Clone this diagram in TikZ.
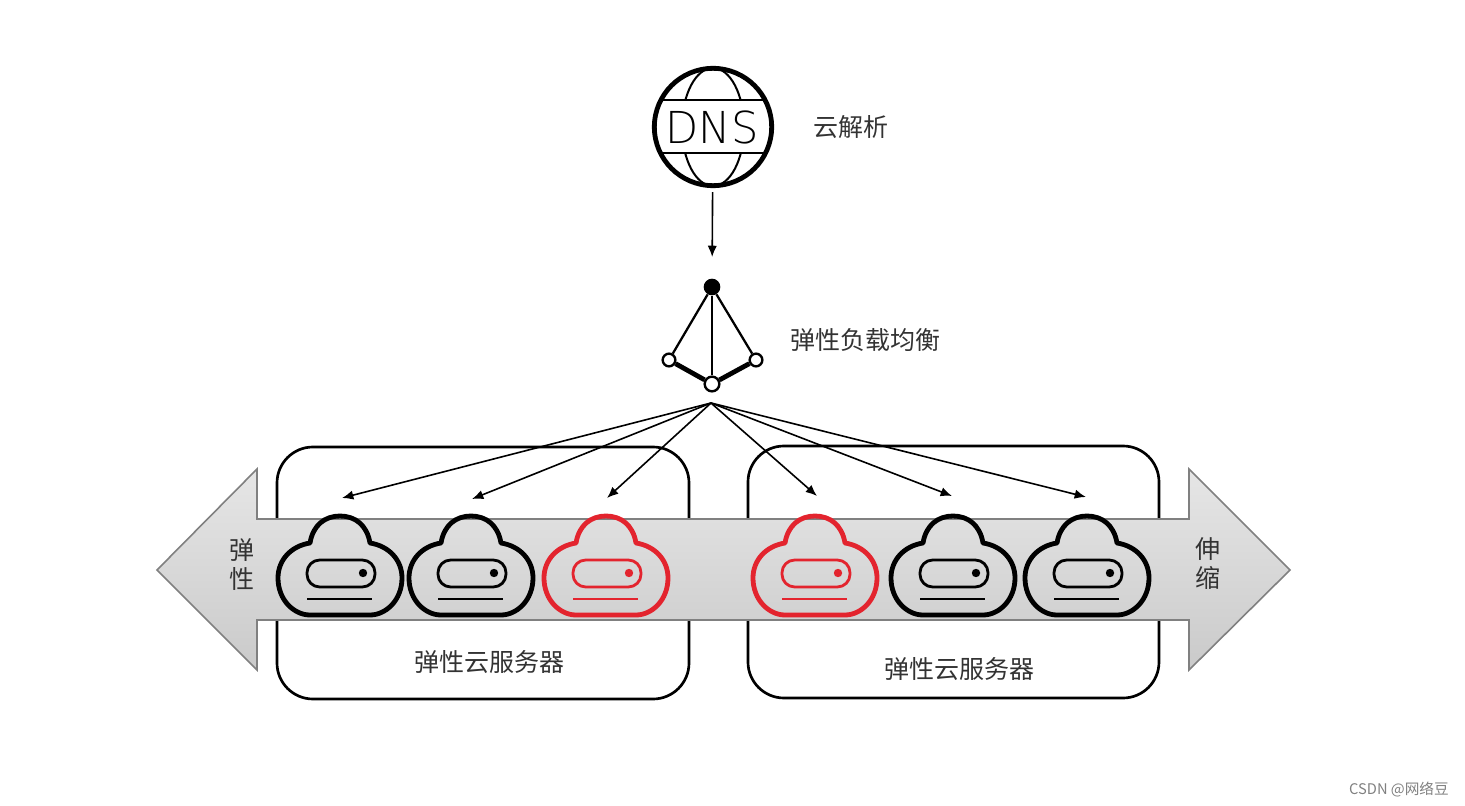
\documentclass[tikz,border=0pt]{standalone}
\usepackage{fontspec}
\usepackage{xcolor}
\usetikzlibrary{arrows.meta, positioning}
\newfontfamily\cjk{Noto Sans CJK SC}
\newfontfamily\dnsfont{DejaVu Sans ExtraLight}
\definecolor{srvred}{HTML}{E3242E}
\definecolor{labelgray}{HTML}{333333}
\definecolor{bandtop}{HTML}{E6E6E6}
\definecolor{bandbot}{HTML}{CACACA}
\tikzset{
  srv/.pic={
    \draw[line width=3.6pt, line join=round]
      (-30,27) .. controls (-27,9) and (-15,0) .. (0,0)
      .. controls (15,0) and (27,9) .. (30,27)
      .. controls (49,30) and (62,44) .. (62,62)
      .. controls (62,84) and (46,99) .. (30,99) -- (-30,99)
      .. controls (-46,99) and (-62,84) .. (-62,62)
      .. controls (-62,44) and (-49,30) .. (-30,27) -- cycle;
    \draw[line width=2.1pt, rounded corners=9.5pt] (-33,44) rectangle (35,71);
    \fill (23,57) circle (4.2);
    \draw[line width=2.1pt] (-33,83) -- (32,83);
  }
}

\begin{document}
\begin{tikzpicture}[
  x=0.75pt, y=-0.75pt,
  label/.style={font=\cjk\fontsize{18.75pt}{21.75pt}\selectfont, text=labelgray, inner sep=0pt, align=center},
  edge/.style={-{Latex[length=8.5pt, width=7pt]}, line width=1.2pt},
  box/.style={draw, line width=2pt, rounded corners=27pt},
  thinlink/.style={line width=1.7pt},
  thicklink/.style={line width=3.6pt},
  hollow/.style={circle, draw, fill=white, line width=1.8pt, inner sep=0pt}
]
\useasboundingbox (0,0) rectangle (1465,806);

\draw[box] (277,447) rectangle (689,699);
\draw[box] (748,446) rectangle (1159,698);

\draw[draw=gray, line width=1.2pt, top color=bandtop, bottom color=bandbot]
  (157,570) -- (257,469) -- (257,519) -- (1189,519) -- (1189,469)
  -- (1290,570) -- (1189,670) -- (1189,620) -- (257,620) -- (257,670) -- cycle;

\pic at (340,516) {srv};
\pic at (471,516) {srv};
\pic[color=srvred] at (606,516) {srv};
\pic[color=srvred] at (815,516) {srv};
\pic at (953,516) {srv};
\pic at (1087,516) {srv};

\draw[line width=1.5pt] (713,127) ellipse (31 and 59);
\fill[white] (661,100) rectangle (765,153);
\draw[line width=2.2pt] (661,100) -- (765,100);
\draw[line width=2.2pt] (661,153) -- (765,153);
\node[circle, draw, line width=3.6pt, minimum size=88pt, inner sep=0pt] (dns) at (713,127) {};
\node[font=\dnsfont\fontsize{33pt}{33pt}\selectfont, xscale=0.98, inner sep=0pt] (dnstext) at (712,127) {DNS};
\node[label, right=0pt of dns, xshift=29.5pt] (dnslabel) {云解析};

\node[circle, fill=black, minimum size=12.5pt, inner sep=0pt] (top) at (712,287) {};
\node[hollow, minimum size=9.5pt] (left) at (669,360) {};
\node[hollow, minimum size=9.5pt] (right) at (756,360) {};
\node[hollow, minimum size=11pt] (bottom) at (712,384) {};
\draw[thinlink] (top) -- (left);
\draw[thinlink] (top) -- (right);
\draw[thinlink] (top) -- (bottom);
\draw[thicklink] (left) -- (bottom);
\draw[thicklink] (right) -- (bottom);
\node[label] (lblabel) at (865,340) {弹性负载均衡};

\draw[edge, shorten <=3pt, shorten >=16pt] (dns) -- (top);

\coordinate (fan) at (711,403);
\coordinate (t1) at (342,498);
\coordinate (t2) at (472,499);
\coordinate (t3) at (607,498);
\coordinate (t4) at (817,496);
\coordinate (t5) at (952,496);
\coordinate (t6) at (1086,497);
\draw[edge] (fan) -- (t1);
\draw[edge] (fan) -- (t2);
\draw[edge] (fan) -- (t3);
\draw[edge] (fan) -- (t4);
\draw[edge] (fan) -- (t5);
\draw[edge] (fan) -- (t6);

\node[label] (shrink) at (242,565) {弹\\性};
\node[label] (stretch) at (1208,564) {伸\\缩};
\node[label] (ecsleft) at (489,662) {弹性云服务器};
\node[label] (ecsright) at (959,669) {弹性云服务器};
\node[font=\cjk\fontsize{11pt}{12pt}\selectfont, text=gray, inner sep=0pt] (mark) at (1399,790) {CSDN @网络豆};
\end{tikzpicture}
\end{document}
